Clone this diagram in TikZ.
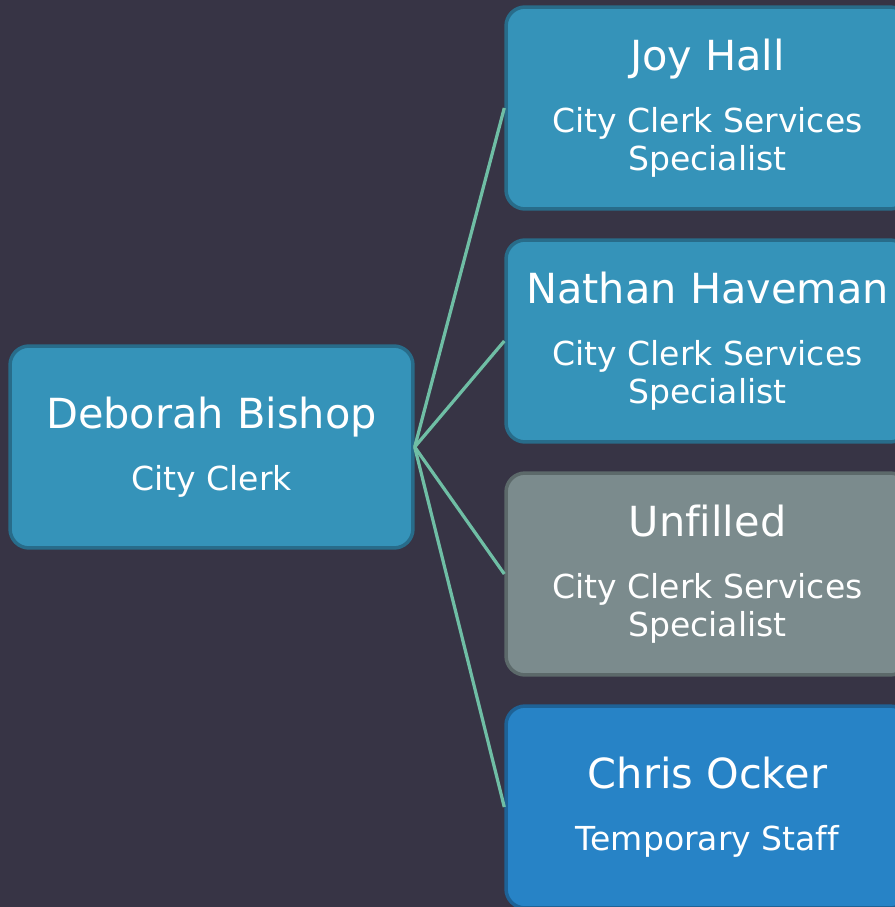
\documentclass[tikz,border=0pt]{standalone}
\usepackage{fontspec}
\setmainfont[Ligatures=NoCommon]{DejaVu Sans}
\usepackage{xcolor}
\usetikzlibrary{positioning}
\definecolor{slateBg}{RGB}{55,52,69}
\definecolor{postBlue}{RGB}{53,147,185}
\definecolor{postBlueEdge}{RGB}{40,108,138}
\definecolor{postGrey}{RGB}{123,139,141}
\definecolor{postGreyEdge}{RGB}{92,105,106}
\definecolor{tempBlue}{RGB}{39,131,198}
\definecolor{tempBlueEdge}{RGB}{30,98,150}
\definecolor{reportLine}{RGB}{111,190,165}
\newcommand{\personName}[1]{{\fontsize{23.6}{28}\selectfont #1}\\[13.6pt]}

\begin{document}
\begin{tikzpicture}[
  x=0.02cm,
  y=-0.02cm,
  staffBox/.style={rounded corners=0.38cm, line width=0.07cm, minimum width=8.06cm,
    minimum height=4.04cm, inner sep=0pt, align=center, text=white,
    font=\fontsize{18.8}{21.6}\selectfont},
  filledPost/.style={staffBox, fill=postBlue, draw=postBlueEdge},
  openPost/.style={staffBox, fill=postGrey, draw=postGreyEdge},
  tempPost/.style={staffBox, fill=tempBlue, draw=tempBlueEdge},
  reportLink/.style={draw=reportLine, line width=0.065cm}
]
\useasboundingbox (0,0) rectangle (895,907);
\fill[slateBg] (0,0) rectangle (895,907);
\clip (0,0) rectangle (895,907);

\node[filledPost] (clerk) at (211.5,447) {\personName{Deborah Bishop}City Clerk};

\node[filledPost] (joy) at (707.5,108) {\personName{Joy Hall}City Clerk Services\\Specialist};
\node[filledPost] (nathan) at (707.5,341) {\personName{Nathan Haveman}City Clerk Services\\Specialist};
\node[openPost] (vacant) at (707.5,574) {\personName{Unfilled}City Clerk Services\\Specialist};
\node[tempPost] (chris) at (707.5,807) {\personName{Chris Ocker}Temporary Staff};

\foreach \kid in {joy,nathan,vacant,chris} {
  \draw[reportLink] (clerk.east) -- (\kid.west);
}
\end{tikzpicture}
\end{document}
